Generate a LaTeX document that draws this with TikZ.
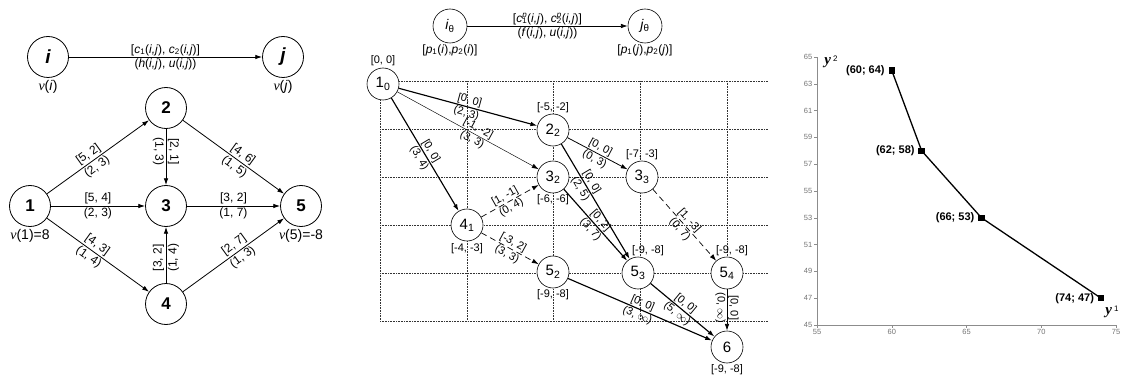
\documentclass[tikz,border=0pt]{standalone}
\usepackage{fontspec}
\setmainfont{Liberation Sans}
\newfontfamily\serifv{Liberation Serif}
\usetikzlibrary{positioning,arrows.meta}

\newcommand{\vlab}{{\serifv\itshape v}}
\newcommand{\argij}{(\textit{i,j})}
\newcommand{\cpij}[1]{\textit{c}\rlap{\textsuperscript{\textit{p}}}\textsubscript{#1}(\textit{i,j})}

\begin{document}
\begin{tikzpicture}[x=1pt,y=-1pt,>={Latex[length=2.4mm,width=1.6mm]},
  font=\fontsize{12}{12}\selectfont,node distance=1pt,
  vtx/.style={circle,draw,line width=0.8pt,fill=white,minimum size=41pt,inner sep=0pt,
              font=\fontsize{17}{17}\selectfont\bfseries},
  gvtx/.style={vtx,font=\fontsize{19}{19}\selectfont\bfseries\itshape},
  pvtx/.style={circle,draw,line width=0.6pt,fill=white,minimum size=32pt,inner sep=0pt,
               font=\fontsize{15}{15}\selectfont},
  arcln/.style={->,line width=0.8pt},
  thinarc/.style={->,line width=0.45pt},
  boldarc/.style={->,line width=1.15pt},
  dasharc/.style={->,line width=0.7pt,dash pattern=on 6pt off 4pt},
  wt/.style={sloped,inner sep=1.5pt},
  vwt/.style={rotate=-90,inner sep=1.5pt},
  pwt/.style={sloped,inner sep=1pt,font=\fontsize{11}{11}\selectfont},
  pvwt/.style={rotate=-90,inner sep=1pt,font=\fontsize{11}{11}\selectfont},
  tag/.style={inner sep=1pt,font=\fontsize{14}{14}\selectfont},
  ptag/.style={inner sep=1pt,font=\fontsize{11}{11}\selectfont},
  grd/.style={densely dotted,line width=0.6pt,black!80},
  axln/.style={black!45,line width=0.5pt},
  ticklab/.style={black!55,font=\fontsize{7.5}{7.5}\selectfont,inner sep=1.5pt},
  sq/.style={fill=black,minimum size=6.5pt,inner sep=0pt},
  ptlab/.style={font=\fontsize{11}{11}\selectfont\bfseries,inner sep=2pt}]
 \useasboundingbox (0,0) rectangle (1122,377);

 % --- left: generic arc and network
 \node[gvtx] (i) at (48,57) {i};
 \node[gvtx] (j) at (283,57) {j};
 \node[tag,below=of i] (vi) {\vlab(\textit{i})};
 \node[tag,below=of j] (vj) {\vlab(\textit{j})};
 \draw[arcln] (i) -- node[above,inner sep=1pt]{[\textit{c}\textsubscript{1}\argij, \textit{c}\textsubscript{2}\argij]}
   node[below,inner sep=1pt]{(\textit{h}\argij, \textit{u}\argij)} (j);

 \node[vtx] (n1) at (30,206) {1};
 \node[vtx] (n2) at (166,108) {2};
 \node[vtx] (n3) at (166,206) {3};
 \node[vtx] (n4) at (166,304) {4};
 \node[vtx] (n5) at (301,206) {5};
 \node[tag,below=of n1] (v1) {\vlab(1)=8};
 \node[tag,below=of n5] (v5) {\vlab(5)=-8};
 \draw[arcln] (n1) -- node[wt,above,pos=.45]{[5, 2]} node[wt,below,pos=.45]{(2, 3)} (n2);
 \draw[arcln] (n1) -- node[wt,above]{[5, 4]} node[wt,below]{(2, 3)} (n3);
 \draw[arcln] (n1) -- node[wt,above,pos=.45]{[4, 3]} node[wt,below,pos=.45]{(1, 4)} (n4);
 \draw[arcln] (n2) -- node[vwt,anchor=south,pos=.4]{[2, 1]} node[vwt,anchor=north,pos=.4]{(1, 3)} (n3);
 \draw[arcln] (n4) -- node[wt,above,pos=.45]{[3, 2]} node[wt,below,pos=.45]{(1, 4)} (n3);
 \draw[arcln] (n2) -- node[wt,above,pos=.55]{[4, 6]} node[wt,below,pos=.55]{(1, 5)} (n5);
 \draw[arcln] (n3) -- node[wt,above]{[3, 2]} node[wt,below]{(1, 7)} (n5);
 \draw[arcln] (n4) -- node[wt,above,pos=.55]{[2, 7]} node[wt,below,pos=.55]{(1, 3)} (n5);

 % --- middle: generic arc and time-expanded network
 \node[pvtx,minimum size=34pt,font=\fontsize{14}{14}\selectfont\itshape] (it) at (450,26) {i\textsubscript{\upshape θ}};
 \node[pvtx,minimum size=34pt,font=\fontsize{14}{14}\selectfont\itshape] (jt) at (645,26) {j\textsubscript{\upshape θ}};
 \node[ptag,font=\fontsize{12}{12}\selectfont,below=0pt of it] (pi) {[\textit{p}\textsubscript{1}(\textit{i}),\textit{p}\textsubscript{2}(\textit{i})]};
 \node[ptag,font=\fontsize{12}{12}\selectfont,below=0pt of jt] (pj) {[\textit{p}\textsubscript{1}(\textit{j}),\textit{p}\textsubscript{2}(\textit{j})]};
 \draw[arcln] (it) -- node[above,inner sep=1pt]{[\cpij{1}, \cpij{2}]}
   node[below,inner sep=1pt]{(\textit{f}\argij, \textit{u}\argij)} (jt);

 \foreach \gy in {81,129,177,225,273,321} \draw[grd] (380,\gy) -- (768,\gy);
 \foreach \gx in {380,467,553,640,727} \draw[grd] (\gx,81) -- (\gx,321);

 \node[pvtx] (p10) at (383,84) {1\textsubscript{0}};
 \node[pvtx] (p22) at (553,130) {2\textsubscript{2}};
 \node[pvtx] (p32) at (553,177) {3\textsubscript{2}};
 \node[pvtx] (p33) at (642,177) {3\textsubscript{3}};
 \node[pvtx] (p41) at (467,225) {4\textsubscript{1}};
 \node[pvtx] (p52) at (553,272) {5\textsubscript{2}};
 \node[pvtx] (p53) at (638,273) {5\textsubscript{3}};
 \node[pvtx] (p54) at (727,273) {5\textsubscript{4}};
 \node[pvtx] (p6) at (727,347) {6};
 \node[ptag,above=1pt of p10] (w10) {[0, 0]};
 \node[ptag,above=0pt of p22] (w22) {[-5, -2]};
 \node[ptag,below=0pt of p32] (w32) {[-6, -6]};
 \node[ptag,above=0pt of p33] (w33) {[-7, -3]};
 \node[ptag,below=1pt of p41] (w41) {[-4, -3]};
 \node[ptag,below=0pt of p52] (w52) {[-9, -8]};
 \node[ptag,above=0pt of p53,xshift=10pt] (w53) {[-9, -8]};
 \node[ptag,above=0pt of p54,xshift=5pt] (w54) {[-9, -8]};
 \node[ptag,below=0pt of p6] (w6) {[-9, -8]};

 \draw[boldarc] (p10) -- node[pwt,above]{[0, 0]} node[pwt,below]{(2, 3)} (p22);
 \draw[thinarc] (p10) -- node[pwt,above,pos=.55]{[-1, -2]} node[pwt,below,pos=.55]{(3, 3)} (p32);
 \draw[boldarc] (p10) -- node[pwt,above]{[0, 0]} node[pwt,below]{(3, 4)} (p41);
 \draw[arcln] (p22) -- node[pwt,above]{[0, 0]} node[pwt,below]{(0, 3)} (p33);
 \draw[boldarc] (p22) -- node[pwt,above,pos=.36]{[0, 0]} node[pwt,below,pos=.36]{(2, 5)} (p53);
 \draw[boldarc] (p32) -- node[pwt,above,pos=.5]{[0, 2]} node[pwt,below,pos=.5]{(3, 7)} (p53);
 \draw[dasharc] (p33) -- node[pwt,above]{[1, -3]} node[pwt,below]{(0, 7)} (p54);
 \draw[dasharc] (p41) -- node[pwt,above,pos=.47]{[1, -1]} node[pwt,below,pos=.47]{(0, 4)} (p32);
 \draw[dasharc] (p41) -- node[pwt,above]{[-3, 2]} node[pwt,below]{(3, 3)} (p52);
 \draw[boldarc] (p52) -- node[pwt,above]{[0; 0]} node[pwt,below]{(3, $\infty$)} (p6);
 \draw[boldarc] (p53) -- node[pwt,above,pos=.48]{[0, 0]} node[pwt,below,pos=.48]{(5, $\infty$)} (p6);
 \draw[arcln] (p54) -- node[pvwt,anchor=south,pos=.45]{[0, 0]} node[pvwt,anchor=north,pos=.45]{(0, $\infty$)} (p6);

 % --- right: Pareto front
 \begin{scope}[shift={(817pt,-325pt)},x=14.95pt,y=13.4pt]
  \draw[axln] (0,0) -- (20,0);
  \draw[axln] (0,0) -- (0,20);
  \foreach \k in {0,5,...,20}
   \draw[axln] (\k,0) -- ++(0,-3pt) node[ticklab,below] (xl\k) {\the\numexpr55+\k\relax};
  \foreach \k in {0,2,...,20}
   \draw[axln] (0,\k) -- ++(-3pt,0) node[ticklab,left] (yl\k) {\the\numexpr45+\k\relax};
  \draw[line width=1.3pt] (5,19) node[sq] (q1) {} -- (7,13) node[sq] (q2) {}
    -- (11,8) node[sq] (q3) {} -- (19,2) node[sq] (q4) {};
  \node[ptlab,left=1pt of q1] (l1) {(60; 64)};
  \node[ptlab,left=1pt of q2] (l2) {(62; 58)};
  \node[ptlab,left=1pt of q3] (l3) {(66; 53)};
  \node[ptlab,left=1pt of q4] (l4) {(74; 47)};
 \end{scope}
 \node[inner sep=0pt] (y2) at (831,62) {{\serifv\bfseries\itshape\fontsize{15}{15}\selectfont y}\,\raisebox{3pt}{\fontsize{8}{8}\selectfont 2}};
 \node[inner sep=0pt] (y1) at (1112,312) {{\serifv\bfseries\itshape\fontsize{15}{15}\selectfont y}\,\raisebox{3pt}{\fontsize{8}{8}\selectfont 1}};
\end{tikzpicture}
\end{document}
